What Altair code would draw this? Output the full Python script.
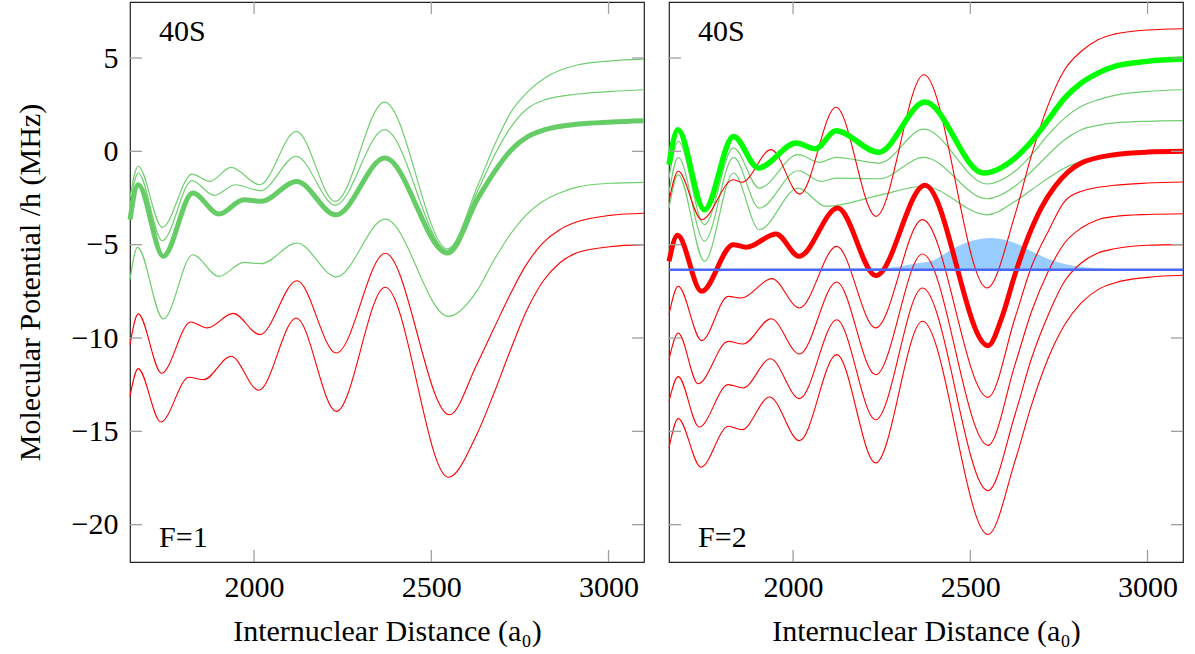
import altair as alt
import pandas as pd

FONT = "Liberation Serif"
FS = 30

X_TICKS = [2000, 2500, 3000]
Y_TICKS = [-20, -15, -10, -5, 0, 5]
X_DOMAIN = [1650, 3100]
Y_DOMAIN = [-22, 8]
PANEL_W = 514
PANEL_H = 560

# ---------------- left panel (F=1) ----------------
L_G1_X = [1650, 1673, 1741, 1825, 1875, 1935, 2016, 2119, 2229, 2368, 2546, 2632, 2679, 2726, 2773, 2820, 2914, 3008, 3100]
L_G1_Y = [-2.50, -0.80, -4.07, -1.22, -1.61, -0.86, -1.79, 1.07, -2.68, 2.64, -5.22, -1.79, 0.36, 2.14, 3.21, 3.93, 4.64, 4.85, 4.94]

L_G2_X = [1650, 1673, 1741, 1825, 1887, 1948, 2018, 2119, 2229, 2368, 2546, 2632, 2679, 2726, 2773, 2820, 2914, 3008, 3100]
L_G2_Y = [-2.93, -1.16, -4.79, -1.57, -2.36, -1.79, -2.11, -0.27, -2.89, 1.16, -5.30, -2.06, -0.18, 1.34, 2.32, 2.76, 3.07, 3.21, 3.30]

L_G3_X = [1650, 1673, 1744, 1827, 1901, 1971, 2020, 2120, 2231, 2369, 2546, 2632, 2679, 2726, 2773, 2820, 2914, 3008, 3100]
L_G3_Y = [-3.66, -1.79, -5.62, -2.23, -3.36, -2.59, -2.68, -1.61, -3.40, -0.36, -5.45, -2.50, -1.07, 0.09, 0.80, 1.16, 1.46, 1.57, 1.64]

L_G4_X = [1650, 1671, 1744, 1827, 1901, 1971, 2020, 2121, 2232, 2370, 2548, 2628, 2675, 2722, 2768, 2815, 2862, 2909, 3003, 3100]
L_G4_Y = [-6.88, -5.14, -8.98, -5.54, -6.70, -5.95, -6.02, -4.91, -6.73, -3.63, -8.84, -7.50, -5.89, -4.47, -3.40, -2.68, -2.23, -1.93, -1.71, -1.66]

L_R1_X = [1650, 1673, 1739, 1821, 1868, 1941, 2016, 2121, 2232, 2370, 2551, 2628, 2675, 2722, 2768, 2815, 2862, 2909, 3003, 3100]
L_R1_Y = [-10.36, -8.71, -11.89, -9.14, -9.46, -8.68, -9.82, -6.93, -10.80, -5.46, -14.11, -11.43, -9.55, -7.68, -6.07, -4.91, -4.20, -3.79, -3.43, -3.32]

L_R2_X = [1650, 1673, 1737, 1816, 1858, 1935, 2013, 2119, 2232, 2370, 2548, 2628, 2675, 2722, 2768, 2815, 2862, 2909, 3003, 3100]
L_R2_Y = [-13.12, -11.64, -14.50, -12.10, -12.23, -10.98, -12.80, -8.93, -13.93, -7.28, -17.46, -15.18, -13.04, -10.71, -8.57, -6.96, -5.98, -5.45, -5.11, -5.00]

# ---------------- right panel (F=2) ----------------
R_GT_X = [1650, 1675, 1750, 1832, 1902, 2009, 2063, 2121, 2241, 2372, 2537, 2626, 2673, 2720, 2766, 2813, 2860, 2907, 3000, 3100]
R_GT_Y = [-0.72, 1.16, -3.13, 0.80, -0.89, 0.44, 0.14, 1.10, -0.05, 2.64, -1.16, -0.36, 0.54, 1.69, 2.85, 3.66, 4.19, 4.55, 4.82, 4.94]

R_GA_X = [1650, 1676, 1750, 1832, 1905, 2014, 2075, 2121, 2243, 2369, 2547, 2626, 2673, 2720, 2766, 2813, 2860, 2907, 3000, 3100]
R_GA_Y = [-1.43, 0.54, -3.93, 0.18, -1.97, -0.18, -0.59, -0.32, -0.63, 1.19, -1.75, -1.07, -0.18, 0.89, 1.78, 2.41, 2.76, 3.00, 3.21, 3.30]

R_GB_X = [1650, 1676, 1750, 1832, 1905, 2014, 2079, 2121, 2243, 2369, 2547, 2626, 2673, 2720, 2766, 2813, 2860, 2907, 3000, 3100]
R_GB_Y = [-2.23, -0.32, -4.82, -0.32, -3.04, -1.04, -1.61, -1.43, -1.47, -0.32, -2.54, -1.87, -1.07, -0.18, 0.62, 1.16, 1.39, 1.52, 1.61, 1.64]

R_GC_X = [1650, 1676, 1750, 1832, 1905, 2014, 2093, 2243, 2369, 2547, 2626, 2673, 2720, 2766, 2813, 2907, 3000, 3100]
R_GC_Y = [-3.04, -1.25, -5.89, -1.16, -4.20, -1.97, -2.95, -2.36, -1.87, -3.40, -2.68, -2.06, -1.43, -0.89, -0.54, -0.18, -0.05, 0.00]

R_RT_X = [1650, 1674, 1742, 1831, 1868, 1952, 2017, 2126, 2234, 2372, 2550, 2589, 2626, 2663, 2701, 2738, 2776, 2813, 2907, 3000, 3100]
R_RT_Y = [-5.89, -4.50, -7.50, -5.00, -5.14, -4.43, -5.62, -3.04, -6.66, -1.82, -10.41, -8.90, -6.60, -4.60, -3.00, -1.90, -1.10, -0.63, -0.18, -0.04, 0.00]

R_RA_X = [1650, 1676, 1742, 1831, 1856, 1938, 2019, 2121, 2234, 2369, 2547, 2626, 2673, 2720, 2766, 2813, 2860, 2907, 3000, 3100]
R_RA_Y = [-2.68, -1.07, -3.66, -1.52, -1.66, 0.09, -2.29, 2.36, -3.48, 4.10, -7.32, -3.40, -0.18, 2.50, 4.37, 5.36, 5.98, 6.28, 6.50, 6.57]

R_R1_X = [1650, 1676, 1742, 1817, 1854, 1940, 2018, 2123, 2233, 2365, 2550, 2626, 2673, 2720, 2766, 2813, 2907, 3000, 3100]
R_R1_Y = [-8.75, -7.23, -10.14, -7.77, -7.86, -6.82, -8.39, -5.09, -9.46, -3.66, -13.18, -8.93, -6.16, -4.28, -2.68, -2.14, -1.82, -1.70, -1.64]

R_R2_X = [1650, 1676, 1732, 1817, 1859, 1938, 2018, 2123, 2233, 2365, 2550, 2626, 2673, 2720, 2766, 2813, 2860, 2907, 3000, 3100]
R_R2_Y = [-11.16, -9.73, -12.45, -10.18, -10.32, -8.97, -10.86, -7.00, -11.97, -5.50, -15.75, -11.43, -8.57, -6.43, -4.91, -4.11, -3.66, -3.49, -3.38, -3.34]

R_R3_X = [1650, 1676, 1735, 1817, 1859, 1936, 2018, 2123, 2233, 2365, 2550, 2626, 2673, 2720, 2766, 2813, 2860, 2907, 3000, 3100]
R_R3_Y = [-13.39, -12.07, -14.77, -12.50, -12.68, -11.11, -13.25, -9.02, -14.38, -7.32, -18.18, -14.11, -11.07, -8.75, -6.96, -5.98, -5.45, -5.22, -5.03, -5.00]

R_R4_X = [1650, 1676, 1740, 1817, 1856, 1934, 2018, 2123, 2233, 2365, 2550, 2626, 2673, 2720, 2766, 2813, 2860, 2907, 3000, 3100]
R_R4_Y = [-15.89, -14.32, -16.92, -14.73, -14.91, -13.16, -15.50, -10.89, -16.69, -9.10, -20.53, -16.60, -13.57, -11.07, -9.29, -8.12, -7.41, -7.05, -6.75, -6.64]

BLUE_LEVEL = -6.34
WAVE_X = [1650, 2088, 2205, 2292, 2345, 2393, 2438, 2486, 2561, 2626, 2674, 2719, 2766, 2814, 2906, 2990, 3100]
WAVE_Y = [-6.34, -6.32, -6.27, -6.19, -6.01, -5.86, -5.36, -4.91, -4.64, -4.91, -5.36, -5.75, -6.04, -6.20, -6.30, -6.34, -6.34]


def curves(pairs):
    rows = []
    for name, xs_, ys_ in pairs:
        for i, (x, y) in enumerate(zip(xs_, ys_)):
            rows.append({"s": name, "i": i, "x": x, "y": y})
    return pd.DataFrame(rows)


xs = alt.Scale(domain=X_DOMAIN, nice=False, zero=False)
ys = alt.Scale(domain=Y_DOMAIN, nice=False, zero=False)

X_AXIS = alt.Axis(values=X_TICKS, title="Internuclear Distance (a\u2080)", ticks=False, domain=False,
                  grid=False, labelPadding=10, titlePadding=14, format="d")
Y_AXIS_LEFT = alt.Axis(values=Y_TICKS, title="Molecular Potential /h (MHz)", ticks=False, domain=False,
                       grid=False, labelPadding=12, titlePadding=26)


def enc(yaxis, xf="x", yf="y"):
    if yaxis is None:
        ye = alt.Y(f"{yf}:Q", scale=ys, axis=None)
    else:
        ye = alt.Y(f"{yf}:Q", scale=ys, axis=yaxis)
    return dict(x=alt.X(f"{xf}:Q", scale=xs, axis=X_AXIS), y=ye)


def lines(df, color, width, yaxis):
    return alt.Chart(df).mark_line(color=color, strokeWidth=width, interpolate="monotone").encode(
        detail="s:N", order="i:Q", **enc(yaxis))


def tick_layers(yaxis):
    tx = pd.DataFrame({"x": X_TICKS})
    ty = pd.DataFrame({"y": Y_TICKS})
    col = "#a0a0a0"
    e = enc(yaxis)
    return [
        alt.Chart(tx).mark_rule(color=col, strokeWidth=1.3).encode(
            x=e["x"], y=alt.value(PANEL_H), y2=alt.value(PANEL_H - 12)),
        alt.Chart(tx).mark_rule(color=col, strokeWidth=1.3).encode(
            x=e["x"], y=alt.value(0), y2=alt.value(12)),
        alt.Chart(ty).mark_rule(color=col, strokeWidth=1.3).encode(
            y=e["y"], x=alt.value(0), x2=alt.value(12)),
        alt.Chart(ty).mark_rule(color=col, strokeWidth=1.3).encode(
            y=e["y"], x=alt.value(PANEL_W), x2=alt.value(PANEL_W - 12)),
    ]


def labels(top, bottom, yaxis):
    df = pd.DataFrame({"x": [1732, 1732], "y": [5.92, -21.21], "t": [top, bottom]})
    return alt.Chart(df).mark_text(font=FONT, fontSize=FS, align="left", baseline="alphabetic",
                                   color="#000").encode(text="t:N", **enc(yaxis))


THIN_GREEN = "#6fcf6f"
LEFT_GREEN = "#66cc66"
RED = "#ff0000"

left = alt.layer(
    lines(curves([("g1", L_G1_X, L_G1_Y), ("g2", L_G2_X, L_G2_Y), ("g4", L_G4_X, L_G4_Y)]),
          THIN_GREEN, 1.2, Y_AXIS_LEFT),
    lines(curves([("r1", L_R1_X, L_R1_Y), ("r2", L_R2_X, L_R2_Y)]), RED, 1.1, Y_AXIS_LEFT),
    lines(curves([("g3", L_G3_X, L_G3_Y)]), LEFT_GREEN, 5, Y_AXIS_LEFT),
    *tick_layers(Y_AXIS_LEFT),
    labels("40S", "F=1", Y_AXIS_LEFT),
).properties(width=PANEL_W, height=PANEL_H)

wave = pd.DataFrame({"x": WAVE_X, "y": WAVE_Y, "b": [BLUE_LEVEL] * len(WAVE_X)})
blue = pd.DataFrame({"x": X_DOMAIN, "y": [BLUE_LEVEL, BLUE_LEVEL]})

right = alt.layer(
    alt.Chart(wave).mark_area(color="#99ccff", opacity=1, interpolate="monotone").encode(
        y2="b:Q", **enc(None)),
    lines(curves([("ga", R_GA_X, R_GA_Y), ("gb", R_GB_X, R_GB_Y), ("gc", R_GC_X, R_GC_Y)]),
          THIN_GREEN, 1.2, None),
    lines(curves([("ra", R_RA_X, R_RA_Y), ("r1", R_R1_X, R_R1_Y), ("r2", R_R2_X, R_R2_Y),
                  ("r3", R_R3_X, R_R3_Y), ("r4", R_R4_X, R_R4_Y)]), RED, 1.1, None),
    lines(curves([("gt", R_GT_X, R_GT_Y)]), "#00ff00", 5.5, None),
    lines(curves([("rt", R_RT_X, R_RT_Y)]), RED, 5, None),
    alt.Chart(blue).mark_line(color="#4a66ff", strokeWidth=2.5).encode(**enc(None)),
    *tick_layers(None),
    labels("40S", "F=2", None),
).properties(width=PANEL_W, height=PANEL_H)

chart = alt.hconcat(left, right, spacing=25, bounds="flush").properties(
    padding={"left": 14, "top": 0, "right": 0, "bottom": 0}
).configure(background="white", font=FONT).configure_view(
    stroke="#222", strokeWidth=1.2
).configure_axis(
    labelFont=FONT, titleFont=FONT, labelFontSize=FS, titleFontSize=FS, labelColor="#000",
    titleColor="#000", titleFontWeight="normal"
)

chart.save("out.html", embed_options={"renderer": "svg", "actions": False})
